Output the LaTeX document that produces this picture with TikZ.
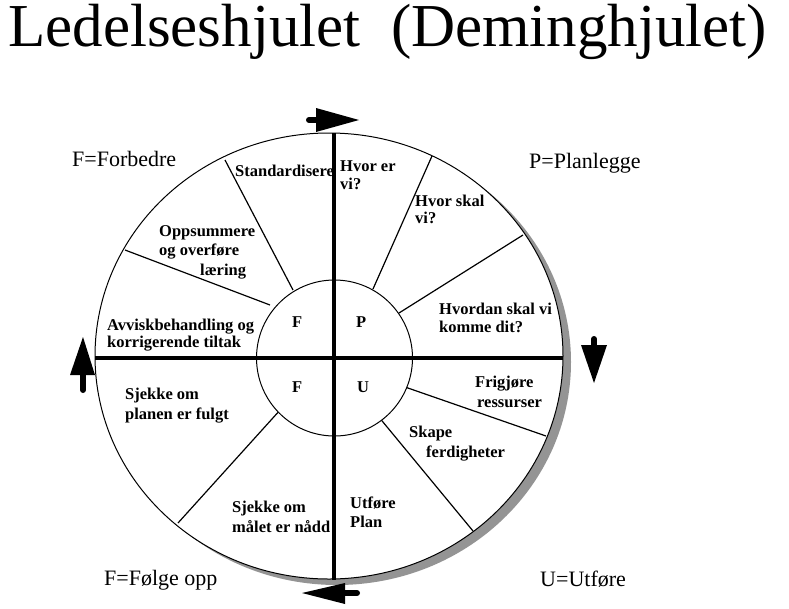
\documentclass[tikz,border=0pt]{standalone}
\usepackage{fontspec}
\setmainfont{Liberation Serif}
\begin{document}
\begin{tikzpicture}[x=1pt,y=-1pt,
 lbl/.style={anchor=base west,inner sep=0pt,font=\fontsize{16.5}{18}\selectfont\bfseries},
 corner/.style={anchor=base west,inner sep=0pt,font=\fontsize{22}{24}\selectfont},
 spoke/.style={line width=1.2pt},
 axisline/.style={line width=3.5pt},
 shaft/.style={line width=6pt,line cap=round},
 head/.style={fill=black}]
\useasboundingbox (0,0) rectangle (789,608);
\fill[white] (0,0) rectangle (789,608);
% title
\node[anchor=base west,inner sep=0pt,font=\fontsize{61}{64}\selectfont] (title) at (8,46) {Ledelseshjulet\ \ (Deminghjulet)};
% wheel
\coordinate (c) at (329,356);
\coordinate (ci) at (334.5,358);
\fill[black!42] (337,362) ellipse [x radius=234pt, y radius=223pt];
\draw[fill=white,line width=1pt] (c) ellipse [x radius=234pt, y radius=223pt];
% spokes
\coordinate (o1) at (225,160); \coordinate (i1) at (293,290);
\coordinate (o2) at (125,250); \coordinate (i2) at (270,305);
\coordinate (o3) at (432,156); \coordinate (i3) at (373,289);
\coordinate (o4) at (523,235); \coordinate (i4) at (399,313);
\coordinate (o5) at (546,436); \coordinate (i5) at (405,387);
\coordinate (o6) at (473,531); \coordinate (i6) at (378,416);
\coordinate (o7) at (178,523); \coordinate (i7) at (281,409);
\foreach \k in {1,...,7} {\draw[spoke] (o\k) -- (i\k);}
\draw[fill=white,line width=1pt] (ci) circle [radius=78pt];
% axes
\coordinate (vt) at (334,133); \coordinate (vb) at (334,580);
\coordinate (hl) at (95,358); \coordinate (hr) at (563,358);
\draw[axisline] (vt) -- (vb);
\draw[axisline] (hl) -- (hr);
% inner letters
\node[lbl] (qf1) at (292,327) {F};
\node[lbl] (qp) at (356,327) {P};
\node[lbl] (qf2) at (292,392) {F};
\node[lbl] (qu) at (357,392) {U};
% sector labels
\node[lbl] (std) at (235,176) {Standardisere};
\node[lbl] (hv1) at (340,171) {Hvor er};
\node[lbl] (hv2) at (340,189) {vi?};
\node[lbl] (hs1) at (415,206) {Hvor skal};
\node[lbl] (hs2) at (415,223) {vi?};
\node[lbl] (hd1) at (439,314) {Hvordan skal vi};
\node[lbl] (hd2) at (439,332) {komme dit?};
\node[lbl] (fr1) at (475,387) {Frigjøre};
\node[lbl] (fr2) at (477,407) {ressurser};
\node[lbl] (sk1) at (409,437) {Skape};
\node[lbl] (sk2) at (426,457) {ferdigheter};
\node[lbl] (ut1) at (350,508) {Utføre};
\node[lbl] (ut2) at (350,527) {Plan};
\node[lbl] (sm1) at (232,512) {Sjekke om};
\node[lbl] (sm2) at (232,532) {målet er nådd};
\node[lbl] (sp1) at (125,399) {Sjekke om};
\node[lbl] (sp2) at (125,419) {planen er fulgt};
\node[lbl] (av1) at (107,330) {Avviskbehandling og};
\node[lbl] (av2) at (107,347) {korrigerende tiltak};
\node[lbl] (op1) at (159,236) {Oppsummere};
\node[lbl] (op2) at (159,255) {og overføre};
\node[lbl] (op3) at (200,275) {læring};
% corner labels
\node[corner] (cf) at (72,166) {F=Forbedre};
\node[corner] (cp) at (529,168) {P=Planlegge};
\node[corner] (cfo) at (104,585) {F=Følge opp};
\node[corner] (cu) at (540,586) {U=Utføre};
% arrows
\draw[shaft] (309,120) -- (318,120);
\fill[head] (316,108) -- (359,120) -- (316,132) -- cycle;
\draw[shaft] (594,339) -- (594,347);
\fill[head] (581,345) -- (607,345) -- (594,383) -- cycle;
\draw[shaft] (83,390) -- (83,373);
\fill[head] (70,375) -- (95,375) -- (83,337) -- cycle;
\draw[shaft] (357,593) -- (343,593);
\fill[head] (345,583) -- (345,604) -- (302,593) -- cycle;
\end{tikzpicture}
\end{document}
